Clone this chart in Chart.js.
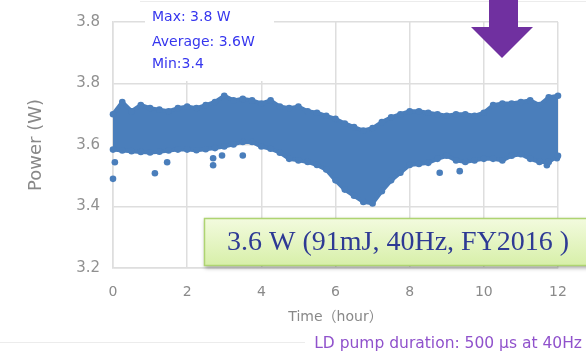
<!DOCTYPE html>
<html>
<head>
<meta charset="utf-8">
<script src="https://cdn.jsdelivr.net/npm/chart.js@4.4.1/dist/chart.umd.min.js"></script>
<style>
  html, body { margin: 0; padding: 0; background: #ffffff; }
  #wrap { width: 586px; height: 355px; position: relative; }
</style>
</head>
<body>
<div id="wrap"><canvas id="c" width="586" height="355"></canvas></div>
<script>
// Sample times (hour) for the edges of the measured power band
const bandTimes = [0, 0.25, 0.5, 0.75, 1, 1.25, 1.5, 1.75, 2, 2.25, 2.5, 2.75, 3, 3.25, 3.5, 3.75,
  4, 4.25, 4.5, 4.75, 5, 5.25, 5.5, 5.75, 6, 6.25, 6.5, 6.75, 7, 7.25, 7.5, 7.75,
  8, 8.25, 8.5, 8.75, 9, 9.25, 9.5, 9.75, 10, 10.25, 10.5, 10.75, 11, 11.25, 11.5, 11.75, 12];

// Upper edge of the power readings (W)
const bandUpper = [3.70, 3.74, 3.71, 3.73, 3.72, 3.715, 3.71, 3.72, 3.725, 3.72, 3.73, 3.74, 3.76, 3.745, 3.75, 3.745,
  3.735, 3.745, 3.725, 3.72, 3.725, 3.71, 3.705, 3.695, 3.685, 3.67, 3.658, 3.647, 3.655, 3.675, 3.69, 3.70,
  3.71, 3.71, 3.705, 3.70, 3.695, 3.70, 3.70, 3.695, 3.705, 3.73, 3.735, 3.735, 3.74, 3.745, 3.73, 3.755, 3.76];

// Lower edge of the power readings (W)
const bandLower = [3.585, 3.582, 3.58, 3.577, 3.576, 3.578, 3.582, 3.585, 3.585, 3.583, 3.586, 3.59, 3.595, 3.602, 3.61, 3.61,
  3.595, 3.588, 3.575, 3.555, 3.55, 3.545, 3.535, 3.52, 3.485, 3.455, 3.435, 3.415, 3.41, 3.45, 3.485, 3.51,
  3.535, 3.538, 3.542, 3.555, 3.565, 3.55, 3.545, 3.55, 3.555, 3.555, 3.55, 3.565, 3.57, 3.555, 3.545, 3.545, 3.565];

// Isolated low readings below the band
const outlierTimes = [0.0, 0.05, 1.13, 1.46, 2.7, 2.7, 2.94, 3.5, 8.81, 9.35, 11.7, 11.97];
const outlierValues = [3.49, 3.544, 3.508, 3.544, 3.557, 3.534, 3.566, 3.566, 3.51, 3.515, 3.534, 3.557];

// Axis tick labels
const xTickLabels = ['0', '2', '4', '6', '8', '10', '12'];
const yTickLabels = ['3.2', '3.4', '3.6', '3.8', '3.8'];

const statLines = ['Max: 3.8 W', 'Average: 3.6W', 'Min:3.4'];
const headline = '3.6 W (91mJ, 40Hz, FY2016 )';
const footnote = 'LD pump duration: 500 \u03bcs at 40Hz';

const BLUE = '#4a7ebb';
const GRID = '#dedede';
const SANS = '"DejaVu Sans", "Noto Sans CJK JP", sans-serif';

const pts = (xs, ys) => xs.map((x, i) => ({ x: x, y: ys[i] }));

const overlay = {
  id: 'overlay',
  afterDraw(chart) {
    const ctx = chart.ctx;
    ctx.save();

    // faint page edges
    ctx.strokeStyle = '#ececec';
    ctx.lineWidth = 1;
    ctx.beginPath(); ctx.moveTo(140, 1.5); ctx.lineTo(586, 1.5); ctx.stroke();
    ctx.beginPath(); ctx.moveTo(0, 342.5); ctx.lineTo(305, 342.5); ctx.stroke();

    // statistics label on a white backing
    ctx.fillStyle = '#ffffff';
    ctx.fillRect(145, 3, 129, 78);
    ctx.fillStyle = '#3636ee';
    ctx.font = '14px ' + SANS;
    ctx.textBaseline = 'middle';
    ctx.textAlign = 'left';
    const ys = [17, 42, 64];
    statLines.forEach((t, i) => ctx.fillText(t, 152, ys[i]));

    // down arrow
    ctx.fillStyle = '#7030a0';
    ctx.beginPath();
    ctx.moveTo(489, -2); ctx.lineTo(518, -2); ctx.lineTo(518, 27);
    ctx.lineTo(533, 27); ctx.lineTo(502, 58); ctx.lineTo(471, 27);
    ctx.lineTo(489, 27); ctx.closePath();
    ctx.fill();

    // headline box
    const bx = 204, by = 218, bw = 400, bh = 48;
    ctx.save();
    ctx.shadowColor = 'rgba(0,0,0,0.35)';
    ctx.shadowBlur = 4;
    ctx.shadowOffsetX = 1;
    ctx.shadowOffsetY = 2;
    const g = ctx.createLinearGradient(0, by, 0, by + bh);
    g.addColorStop(0, '#f3fbdf');
    g.addColorStop(1, '#d7efa8');
    ctx.fillStyle = g;
    ctx.fillRect(bx, by, bw, bh);
    ctx.restore();
    ctx.strokeStyle = '#aed472';
    ctx.lineWidth = 1.5;
    ctx.strokeRect(bx + 0.5, by + 0.5, bw, bh - 1);
    ctx.fillStyle = '#2e3a94';
    ctx.font = '28px "Liberation Serif", "Times New Roman", serif';
    ctx.textAlign = 'left';
    ctx.textBaseline = 'middle';
    ctx.fillText(headline, 227, 243);

    // footnote
    ctx.fillStyle = '#9052cc';
    ctx.font = '15.5px ' + SANS;
    ctx.textAlign = 'right';
    ctx.fillText(footnote, 582, 344);

    ctx.restore();
  }
};

new Chart(document.getElementById('c'), {
  type: 'line',
  data: {
    datasets: [
      {
        data: pts(bandTimes, bandLower),
        borderColor: BLUE, backgroundColor: BLUE,
        borderWidth: 4, pointRadius: 3.3, pointHoverRadius: 0,
        pointBackgroundColor: BLUE, pointBorderWidth: 0,
        tension: 0, fill: false, clip: 6
      },
      {
        data: pts(bandTimes, bandUpper),
        borderColor: BLUE, backgroundColor: BLUE,
        borderWidth: 4, pointRadius: 3.3, pointHoverRadius: 0,
        pointBackgroundColor: BLUE, pointBorderWidth: 0,
        tension: 0, fill: '-1', clip: 6
      },
      {
        data: pts(outlierTimes, outlierValues),
        showLine: false,
        pointRadius: 3.3, pointBorderWidth: 0,
        pointBackgroundColor: BLUE, backgroundColor: BLUE, borderColor: BLUE,
        clip: 6
      }
    ]
  },
  plugins: [overlay],
  options: {
    responsive: false,
    animation: false,
    events: [],
    layout: { padding: { left: 0, top: 22, right: 28, bottom: 0 } },
    plugins: { legend: { display: false }, tooltip: { enabled: false } },
    scales: {
      x: {
        type: 'linear', min: 0, max: 12,
        afterFit(s) { s.height = 87; },
        afterBuildTicks(s) { s.ticks = xTickLabels.map(v => ({ value: Number(v) })); },
        ticks: {
          padding: 16, color: '#8a8a8a', font: { family: SANS, size: 14 },
          callback: (v, i) => xTickLabels[i], maxRotation: 0
        },
        grid: { color: GRID, lineWidth: 1.5, drawTicks: false },
        border: { color: GRID, width: 1.5 },
        title: {
          display: true, text: 'Time\uff08hour\uff09', color: '#888888',
          font: { family: SANS, size: 14 }, padding: { top: 0, bottom: 29 }
        }
      },
      y: {
        type: 'linear', min: 3.2, max: 4.0,
        afterFit(s) { s.width = 113; },
        afterBuildTicks(s) { s.ticks = yTickLabels.map((v, i) => ({ value: 3.2 + 0.2 * i })); },
        ticks: {
          padding: 13, color: '#909090', font: { family: SANS, size: 15 },
          callback: (v, i) => yTickLabels[i]
        },
        grid: { color: GRID, lineWidth: 1.5, drawTicks: false },
        border: { color: GRID, width: 1.5 },
        title: {
          display: true, text: 'Power (W)', color: '#888888',
          font: { family: SANS, size: 18 }, padding: { top: 26, bottom: 0 }
        }
      }
    }
  }
});
</script>
</body>
</html>
